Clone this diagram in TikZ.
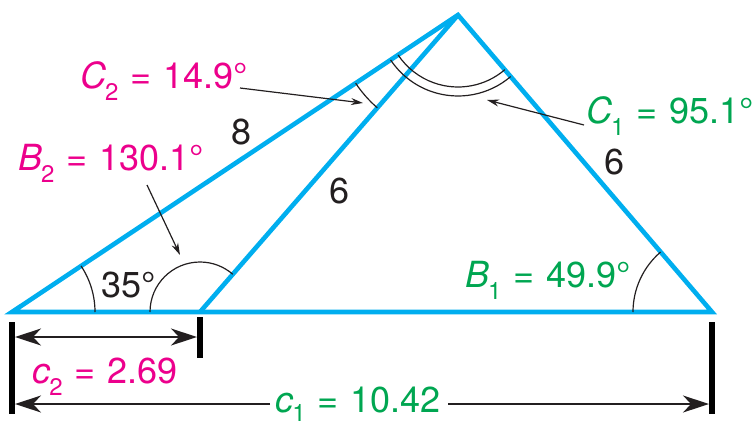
\documentclass[tikz,border=0pt]{standalone}
\usepackage{fontspec}
\setmainfont{TeX Gyre Heros}
\usetikzlibrary{arrows.meta}
\definecolor{segblue}{RGB}{0,174,239}
\definecolor{pinkc}{RGB}{236,0,140}
\definecolor{greenc}{RGB}{0,166,81}
\definecolor{inkc}{RGB}{35,31,32}
\newcommand\subs[2][12pt]{\kern-1pt\raisebox{-#1}{\fontsize{24}{24}\selectfont #2}}
\newcommand\eqs{\hspace{0.33em}=\hspace{0.33em}}
\begin{document}
\begin{tikzpicture}[x=1pt,y=-1pt,
  seg/.style={draw=segblue,line width=4.6pt},
  lbl/.style={inner sep=0pt,font=\fontsize{36}{40}\selectfont},
  arcmark/.style={draw=inkc,line width=1.2pt},
  ptr/.style={draw=inkc,line width=1.2pt,-{Stealth[length=12pt,width=7pt]}},
  dimline/.style={draw=inkc,line width=1.5pt},
  tickbar/.style={draw=black,line width=5.5pt}]
\useasboundingbox (0,0) rectangle (754,426);
% vertices
\coordinate (A) at (12,312);
\coordinate (B2) at (200,312);
\coordinate (B1) at (712,312);
\coordinate (C) at (458,15);
% triangle sides
\draw[seg,line join=miter] (A) -- (C) -- (B1) -- cycle;
\draw[seg] (B2) -- (C);
% angle marks
\draw[arcmark] ([shift={(-33.66:83)}]A) arc[start angle=-33.66,end angle=0,radius=83];
\draw[arcmark] ([shift={(-180:50)}]B2) arc[start angle=-180,end angle=-49.02,radius=50];
\draw[arcmark] ([shift={(-180:79)}]B1) arc[start angle=-180,end angle=-130.54,radius=79];
\draw[arcmark] ([shift={(130.98:123)}]C) arc[start angle=130.98,end angle=146.34,radius=123];
\draw[arcmark] ([shift={(49.46:72)}]C) arc[start angle=49.46,end angle=146.34,radius=72];
\draw[arcmark] ([shift={(49.46:81)}]C) arc[start angle=49.46,end angle=146.34,radius=81];
% side labels
\node[lbl,text=inkc] (s8) at (242,132) {8};
\node[lbl,text=inkc] (s6a) at (340,191) {6};
\node[lbl,text=inkc] (s6b) at (614,162) {6};
\node[lbl,text=inkc,anchor=base west] (a35) at (101,297) {35°};
% angle labels
\node[lbl,text=pinkc,anchor=base west] (lC2) at (80,88) {\textit{C}\subs{2}\eqs 14.9°};
\node[lbl,text=pinkc,anchor=base west] (lB2) at (18,170) {\textit{B}\subs{2}\eqs 130.1°};
\node[lbl,text=greenc,anchor=base west] (lC1) at (586,123) {\textit{C}\subs{1}\eqs 95.1°};
\node[lbl,text=greenc,anchor=base west] (lB1) at (465,287) {\textit{B}\subs{1}\eqs 49.9°};
\node[lbl,text=pinkc,anchor=base west] (lc2) at (32,383) {\textit{c}\subs{2}\eqs 2.69};
\node[lbl,text=greenc,anchor=base west] (lc1) at (275,412) {\textit{c}\subs[9pt]{1}\eqs 10.42};
% pointer arrows
\coordinate (pC2) at (363,103);
\coordinate (pB2) at (180,255);
\coordinate (pC1) at (487,100);
\coordinate (fC2) at (240,88);
\coordinate (fB2) at (147,185);
\coordinate (fC1) at (584,125);
\draw[ptr] (fC2) -- (pC2);
\draw[ptr] (fB2) -- (pB2);
\draw[ptr] (fC1) -- (pC1);
% dimension ticks
\coordinate (tA1) at (12,322);
\coordinate (tA2) at (12,414);
\coordinate (tB1) at (200,317);
\coordinate (tB2) at (200,358);
\coordinate (tR1) at (712,322);
\coordinate (tR2) at (712,414);
\draw[tickbar] (tA1) -- (tA2);
\draw[tickbar] (tB1) -- (tB2);
\draw[tickbar] (tR1) -- (tR2);
% dimension arrows
\coordinate (d2L) at (15,337);
\coordinate (d2R) at (197,337);
\draw[dimline,{Stealth[length=26pt,width=17pt,inset=8pt]}-{Stealth[length=26pt,width=17pt,inset=8pt]}] (d2L) -- (d2R);
\coordinate (d1L) at (15,404);
\coordinate (d1R) at (709,404);
\coordinate (d1a) at (270,404);
\coordinate (d1b) at (448,404);
\draw[dimline,-{Stealth[length=26pt,width=17pt,inset=8pt]}] (d1a) -- (d1L);
\draw[dimline,-{Stealth[length=26pt,width=17pt,inset=8pt]}] (d1b) -- (d1R);
\end{tikzpicture}
\end{document}
